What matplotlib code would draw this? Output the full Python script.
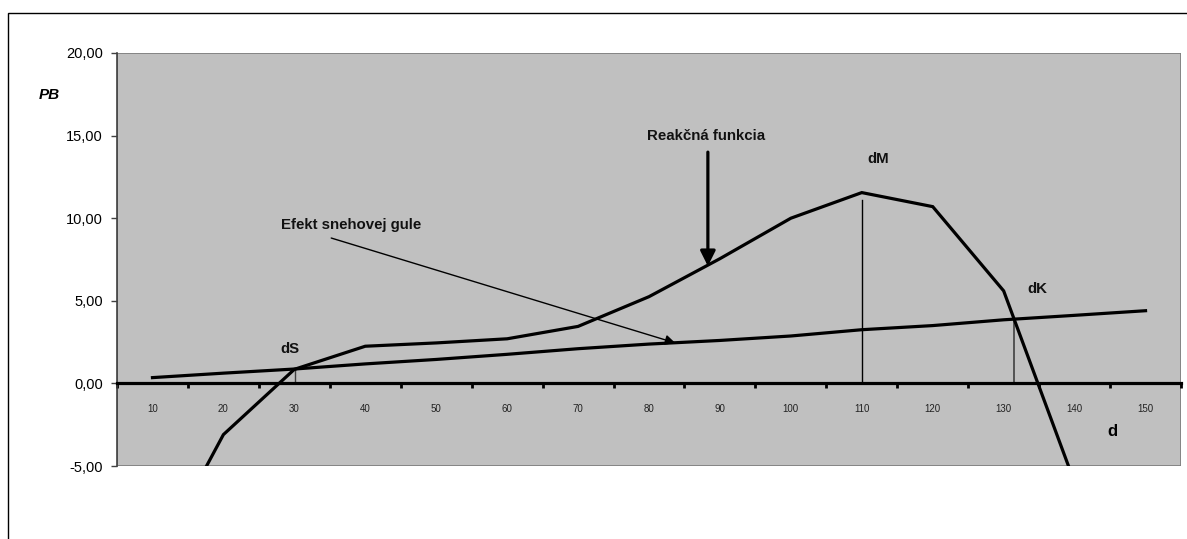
import numpy as np
import matplotlib.pyplot as plt
from matplotlib.patches import Rectangle
from matplotlib.ticker import FuncFormatter

plt.rcParams['font.family'] = ['Liberation Sans', 'DejaVu Sans']

# hodnoty d (kategorie) a oba priebehy
d = [10, 20, 30, 40, 50, 60, 70, 80, 90, 100, 110, 120, 130, 140, 150]
reakcna = [-11.1, -3.1, 0.85, 2.25, 2.45, 2.7, 3.45, 5.25, 7.55, 10.0,
           11.55, 10.7, 5.6, -6.0, -18.0]
snehova = [0.35, 0.62, 0.87, 1.18, 1.45, 1.76, 2.1, 2.38, 2.6, 2.87,
           3.25, 3.5, 3.85, 4.12, 4.4]
y_ticks = [-5, 0, 5, 10, 15, 20]
d_max = 110


def prienik(i):
    # priesecnik oboch useciek medzi d[i] a d[i+1]
    r0, r1 = reakcna[i], reakcna[i + 1]
    s0, s1 = snehova[i], snehova[i + 1]
    t = (s0 - r0) / ((r1 - r0) - (s1 - s0))
    return d[i] + t * (d[i + 1] - d[i]), s0 + t * (s1 - s0)


fig = plt.figure(figsize=(11.87, 5.39), dpi=100)
ax = fig.add_axes([117 / 1187, 1 - 466 / 539, 1064 / 1187, 413 / 539])
ax.set_facecolor('#c0c0c0')

# ramcek celeho grafu
fig.patches.append(Rectangle((7.5 / 1187, -0.1), 1.2, 1.1 - 13.5 / 539,
                             transform=fig.transFigure, fill=False,
                             edgecolor='black', lw=1.0))

ax.plot(d, reakcna, color='black', lw=2.3, solid_joinstyle='miter', zorder=4)
ax.plot(d, snehova, color='black', lw=2.3, solid_joinstyle='miter', zorder=4)

ax.set_xlim(5, 155)
ax.set_ylim(-5, 20)

# zvisle ciary k bodom dS, dM, dK
xs, ys = prienik(1)
xk, yk = prienik(12)
ax.plot([xs, xs], [0, ys], color='#404040', lw=1.0, zorder=3)
ax.plot([d_max, d_max], [0, reakcna[d.index(d_max)] - 0.45], color='black',
        lw=1.0, zorder=3)
ax.plot([xk, xk], [0, yk], color='#404040', lw=1.2, zorder=3)

# osi
for s in ['top', 'right']:
    ax.spines[s].set_visible(False)
ax.spines['left'].set_color('#404040')
ax.spines['left'].set_linewidth(1.2)
ax.spines['bottom'].set_position(('data', 0))
ax.spines['bottom'].set_linewidth(2.3)
ax.spines['bottom'].set_zorder(5)
ax.add_patch(Rectangle((0, 0), 1, 1, transform=ax.transAxes, fill=False,
                       edgecolor='#808080', lw=1.3, zorder=1))

ax.set_yticks(y_ticks)
ax.yaxis.set_major_formatter(FuncFormatter(lambda v, p: f'{v:.2f}'.replace('.', ',')))
ax.tick_params(axis='y', direction='out', length=4.5, width=1.0,
               color='#404040', pad=5.5, labelsize=10.5)

ax.set_xticks(np.arange(5, 156, 10))
ax.set_xticklabels([])
ax.set_xticks(d, minor=True)
ax.set_xticklabels([str(v) for v in d], minor=True)
ax.tick_params(axis='x', which='major', direction='out', length=3.5,
               width=2.0, color='black')
ax.tick_params(axis='x', which='minor', length=0, pad=14.5, labelsize=7,
               labelcolor='#222222')

# popisy
bold = dict(fontweight='bold', fontsize=10.8, color='#111111')
ax.text(29.4, 2.08, 'dS', ha='center', va='center', **bold)
ax.text(112.3, 13.56, 'dM', ha='center', va='center', **bold)
ax.text(134.7, 5.71, 'dK', ha='center', va='center', **bold)
ax.text(145.4, -2.94, 'd', ha='center', va='center', fontweight='bold',
        fontsize=12)
ax.text(-0.064, 0.898, 'PB', transform=ax.transAxes, ha='center',
        va='center', fontweight='bold', fontstyle='italic', fontsize=11)

ax.text(88.0, 14.98, 'Reakčná funkcia', ha='center', va='center', **bold)
ax.annotate('', xy=(88.3, 7.1), xytext=(88.3, 14.0),
            arrowprops=dict(arrowstyle='-|>,head_length=0.9,head_width=0.45',
                            color='black', lw=2.3, shrinkA=0, shrinkB=0),
            zorder=6)

ax.text(28.1, 9.59, 'Efekt snehovej gule', ha='left', va='center', **bold)
ax.annotate('', xy=(83.7, 2.45), xytext=(35.2, 8.8),
            arrowprops=dict(arrowstyle='-|>,head_length=0.6,head_width=0.3',
                            color='black', lw=1.0, shrinkA=0, shrinkB=0),
            zorder=6)

fig.savefig('out.png', dpi=100)
